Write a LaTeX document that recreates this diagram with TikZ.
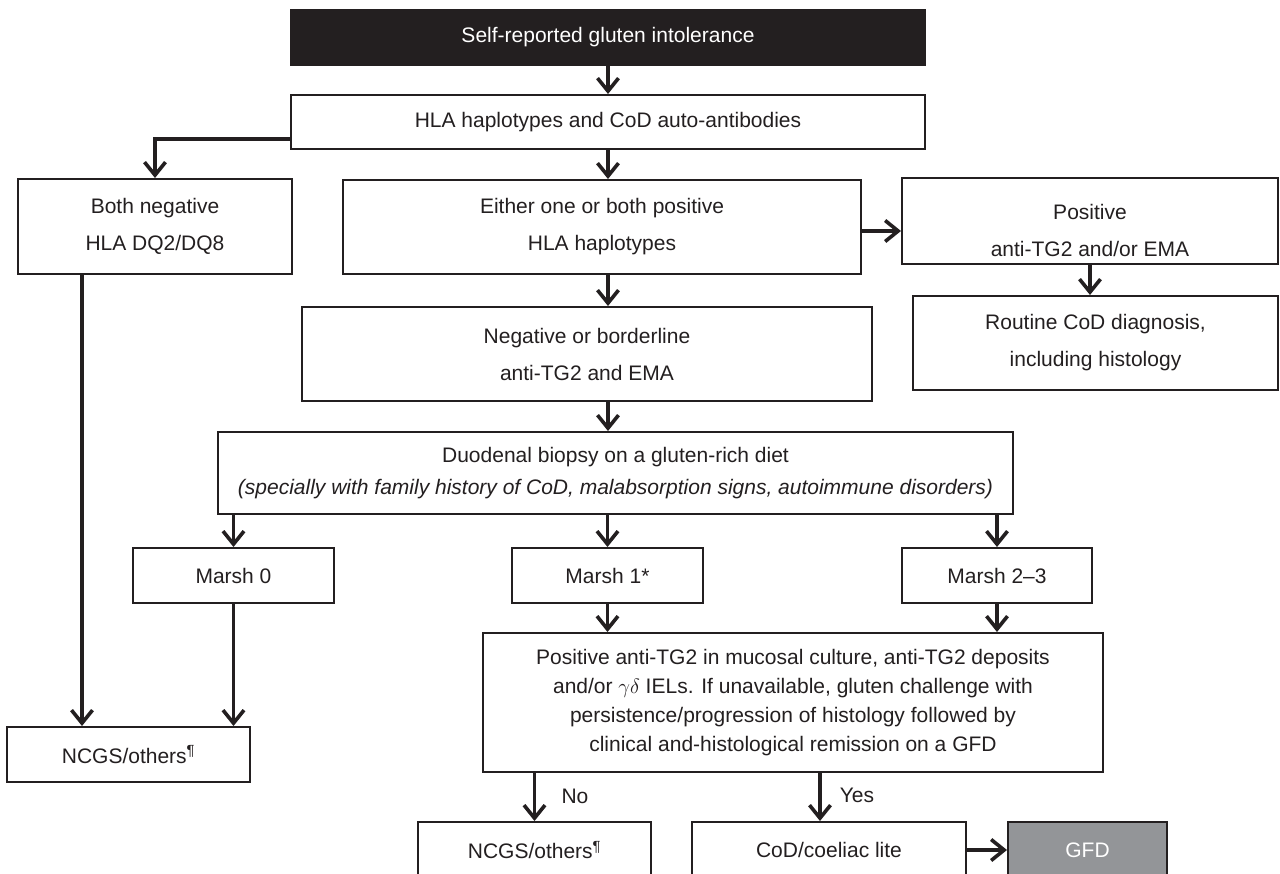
\documentclass[tikz,border=0pt]{standalone}
\usepackage{fontspec}
\setmainfont{Liberation Sans}
\usetikzlibrary{arrows.meta,calc}
\definecolor{ink}{HTML}{231F20}
\definecolor{gfdgray}{HTML}{939598}
\begin{document}
\begin{tikzpicture}[x=1pt,y=-1pt,
  box/.style={draw=ink, line width=2pt, inner sep=0pt, align=center, text=ink,
    font=\fontsize{21}{37}\selectfont},
  arr/.style={draw=ink, line width=3.6pt,
    -{Straight Barb[length=13pt,width=21pt,line width=3.6pt]}},
  lab/.style={text=ink, font=\fontsize{21}{25}\selectfont, inner sep=0pt}]
\clip (0,0) rectangle (1280,874);
\fill[white] (0,0) rectangle (1280,874);

\node[box, fill=ink, text=white, minimum width=634pt, minimum height=55pt] (top) at (608,37.5) {Self-reported gluten intolerance};
\node[box, minimum width=634pt, minimum height=54pt] (hla) at (608,122) {HLA haplotypes and CoD auto-antibodies};
\node[box, minimum width=274pt, minimum height=95pt] (bn) at (155,226.5) {Both negative\\HLA DQ2/DQ8};
\node[box, minimum width=518pt, minimum height=94pt] (either) at (602,227) {Either one or both positive\\HLA haplotypes};
\node[box, minimum width=376pt, minimum height=86pt,
  label={[text=ink, inner sep=0pt, align=center, font=\fontsize{21}{37}\selectfont, yshift=-9pt]center:Positive\\anti-TG2 and/or EMA}] (pos) at (1090,221) {};
\node[box, minimum width=570pt, minimum height=94pt] (neg) at (587,354) {Negative or borderline\\anti-TG2 and EMA};
\node[box, minimum width=365pt, minimum height=94pt] (routine) at (1095.5,343) {Routine CoD diagnosis,\\including histology};
\node[box, minimum width=795pt, minimum height=82pt, font=\fontsize{21}{32}\selectfont] (duod) at (615.5,473) {Duodenal biopsy on a gluten-rich diet\\\textit{(specially with family history of CoD, malabsorption signs, autoimmune disorders)}};
\node[box, minimum width=201pt, minimum height=55pt] (m0) at (233.5,575.5) {Marsh 0};
\node[box, minimum width=191pt, minimum height=55pt] (m1) at (607.5,575.5) {Marsh 1*};
\node[box, minimum width=190pt, minimum height=55pt] (m23) at (997,575.5) {Marsh 2–3};
\node[box, minimum width=243pt, minimum height=55pt] (ncgsa) at (128.5,754.5) {NCGS/others\textsuperscript{¶}};
\node[box, minimum width=620pt, minimum height=139pt, font=\fontsize{21}{29}\selectfont] (big) at (793,702.5) {Positive anti-TG2 in mucosal culture, anti-TG2 deposits\\and/or $\gamma\delta$ IELs. If unavailable, gluten challenge with\\persistence/progression of histology followed by\\clinical and-histological remission on a GFD};
\node[box, minimum width=233pt, minimum height=56pt] (ncgsb) at (534.5,850) {NCGS/others\textsuperscript{¶}};
\node[box, minimum width=274pt, minimum height=56pt] (cod) at (829,850) {CoD/coeliac lite};
\node[box, fill=gfdgray, text=white, minimum width=159pt, minimum height=56pt] (gfd) at (1087.5,850) {GFD};

\coordinate (col) at (608,0);
\coordinate (lcol) at (82,0);
\coordinate (ycol) at (820,0);

\draw[arr] (top.south) -- (hla.north);
\draw[arr] ($(hla.south west)+(0,-11)$) -| (bn.north);
\draw[arr] (hla.south -| col) -- (either.north -| col);
\draw[arr] ([yshift=-4pt]either.east) -- ([yshift=-4pt]either.east -| pos.west);
\draw[arr] (pos.south) -- (pos.south |- routine.north);
\draw[arr] (either.south -| col) -- (neg.north -| col);
\draw[arr] (neg.south -| col) -- (duod.north -| col);
\draw[arr] (duod.south -| m0.north) -- (m0.north);
\draw[arr] (duod.south -| m1.north) -- (m1.north);
\draw[arr] (duod.south -| m23.north) -- (m23.north);
\draw[arr] (m0.south) -- (m0.south |- ncgsa.north);
\draw[arr] (bn.south -| lcol) -- (ncgsa.north -| lcol);
\draw[arr] (m1.south) -- (m1.south |- big.north);
\draw[arr] (m23.south) -- (m23.south |- big.north);
\draw[arr] (big.south -| ncgsb.north) -- (ncgsb.north);
\draw[arr] (big.south -| ycol) -- (cod.north -| ycol);
\draw[arr] (cod.east) -- (gfd.west);

\node[lab] (no) at (575,796) {No};
\node[lab] (yes) at (857,795) {Yes};
\end{tikzpicture}
\end{document}
